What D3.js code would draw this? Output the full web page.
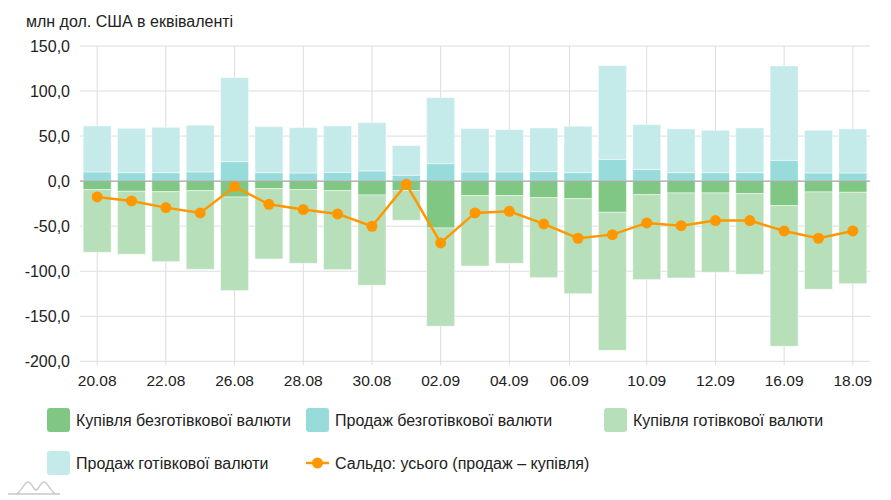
<!DOCTYPE html>
<html><head><meta charset="utf-8">
<script src="https://cdn.jsdelivr.net/npm/d3@7/dist/d3.min.js"></script>
<style>
html,body{margin:0;padding:0;background:#fff;}
svg{display:block;font-family:"Liberation Sans",Arial,sans-serif;}
</style></head>
<body>
<svg id="chart" width="891" height="500"></svg>
<script>
// ---- data ----
const dates = ["20.08","21.08","22.08","23.08","26.08","27.08","28.08","29.08","30.08","31.08","02.09","03.09","04.09","05.09","06.09","09.09","10.09","11.09","12.09","13.09","16.09","17.09","18.09"];
const saleNonCash = [10.2,9.4,9.4,10.2,21.6,9.4,9.1,9.8,11.3,6.5,19.4,10.2,10.2,10.5,9.4,24.2,12.8,9.4,9.4,9.4,23.1,9.1,9.1];
const saleCash    = [51.0,49.2,50.3,51.8,93.3,51.1,50.3,51.4,53.6,32.9,73.3,48.1,47.0,48.5,51.5,104.0,49.9,48.5,47.0,49.6,104.7,47.3,48.8];
const buyNonCash  = [-9.4,-11.3,-11.7,-10.5,-17.6,-8.3,-9.4,-10.5,-15.4,-10.5,-52.0,-16.1,-16.1,-18.3,-19.4,-34.6,-15.0,-13.1,-13.1,-13.9,-27.2,-12.0,-12.4];
const buyCash     = [-69.6,-69.9,-77.6,-87.4,-103.9,-78.1,-81.8,-87.7,-100.2,-33.0,-109.1,-78.1,-75.1,-88.8,-105.5,-153.2,-94.3,-94.4,-88.1,-89.5,-156.1,-108.0,-101.4];
const balance     = [-17.6,-22.0,-29.4,-35.3,-6.1,-25.7,-31.6,-36.4,-50.1,-3.5,-68.6,-35.3,-33.5,-47.5,-63.4,-59.4,-46.4,-49.4,-43.8,-43.8,-55.3,-63.4,-55.3];
const tickLabels  = ["20.08","22.08","26.08","28.08","30.08","02.09","04.09","06.09","10.09","12.09","16.09","18.09"];
const tickIndex   = [0,2,4,6,8,10,12,13.75,16,18,20,22];
const yTicks      = [150,100,50,0,-50,-100,-150,-200];
const seriesNames = ["Купівля безготівкової валюти","Продаж безготівкової валюти","Купівля готівкової валюти","Продаж готівкової валюти","Сальдо: усього (продаж – купівля)"];
const colors      = ["#81c784","#97dbdb","#b7e0ba","#c4eaea","#ff9800"];
const unitLabel   = "млн дол. США в еквіваленті";

// ---- layout ----
const svg = d3.select("#chart");
const pLeft = 80, pRight = 870, pTop = 46, pBottom = 361.3;
const x = d3.scaleLinear().domain([-0.5, dates.length - 0.5]).range([pLeft, pRight]);
const y = d3.scaleLinear().domain([-200, 150]).range([pBottom, pTop]);
const barW = 28;
const fmt = v => v.toFixed(1).replace(".", ",");

// grid
const g = svg.append("g");
g.selectAll("line.hg").data(yTicks).join("line")
  .attr("x1", pLeft).attr("x2", pRight)
  .attr("y1", d => y(d)).attr("y2", d => y(d))
  .attr("stroke", "#dddddd").attr("stroke-width", 1);
g.selectAll("line.vg").data(tickIndex).join("line")
  .attr("x1", d => x(d)).attr("x2", d => x(d))
  .attr("y1", pTop).attr("y2", pBottom + 4)
  .attr("stroke", "#dddddd").attr("stroke-width", 1);

// y labels
svg.append("g").selectAll("text").data(yTicks).join("text")
  .attr("x", 70).attr("y", d => y(d)).attr("dy", "0.35em")
  .attr("text-anchor", "end").attr("font-size", 16).attr("fill", "#222")
  .text(fmt);

// x labels
svg.append("g").selectAll("text").data(tickIndex).join("text")
  .attr("x", d => x(d)).attr("y", 381).attr("dy", "0.35em")
  .attr("text-anchor", "middle").attr("font-size", 15.5).attr("fill", "#222")
  .text((d, i) => tickLabels[i]);

// unit label
svg.append("text").attr("x", 26).attr("y", 27).attr("font-size", 16).attr("fill", "#222").text(unitLabel);

// stacked bars
const rows = dates.map((d, i) => ({i, sn: saleNonCash[i], sc: saleCash[i], bn: buyNonCash[i], bc: buyCash[i]}));
const segs = [];
rows.forEach(r => {
  segs.push({i: r.i, y0: 0, y1: r.sn, c: colors[1]});
  segs.push({i: r.i, y0: r.sn, y1: r.sn + r.sc, c: colors[3]});
  segs.push({i: r.i, y0: 0, y1: r.bn, c: colors[0]});
  segs.push({i: r.i, y0: r.bn, y1: r.bn + r.bc, c: colors[2]});
});
svg.append("g").selectAll("rect").data(segs).join("rect")
  .attr("x", d => x(d.i) - barW / 2).attr("width", barW)
  .attr("y", d => Math.min(y(d.y0), y(d.y1)))
  .attr("height", d => Math.abs(y(d.y0) - y(d.y1)))
  .attr("fill", d => d.c)
  .attr("stroke", "#ffffff").attr("stroke-opacity", 0.45).attr("stroke-width", 1);

// zero line
svg.append("line").attr("x1", pLeft).attr("x2", pRight).attr("y1", y(0)).attr("y2", y(0))
  .attr("stroke", "#999").attr("stroke-width", 1);

// balance line
const line = d3.line().x((d, i) => x(i)).y(d => y(d));
svg.append("path").datum(balance).attr("d", line)
  .attr("fill", "none").attr("stroke", colors[4]).attr("stroke-width", 2.5);
svg.append("g").selectAll("circle").data(balance).join("circle")
  .attr("cx", (d, i) => x(i)).attr("cy", d => y(d)).attr("r", 5.5)
  .attr("fill", colors[4]);

// legend
const legendItems = [
  {name: seriesNames[0], c: colors[0], lx: 47, ly: 408, type: "rect"},
  {name: seriesNames[1], c: colors[1], lx: 306, ly: 408, type: "rect"},
  {name: seriesNames[2], c: colors[2], lx: 604, ly: 408, type: "rect"},
  {name: seriesNames[3], c: colors[3], lx: 47, ly: 451, type: "rect"},
  {name: seriesNames[4], c: colors[4], lx: 306, ly: 451, type: "line"}
];
const lg = svg.append("g").selectAll("g").data(legendItems).join("g")
  .attr("transform", d => `translate(${d.lx},${d.ly})`);
lg.filter(d => d.type === "rect").append("rect")
  .attr("width", 23).attr("height", 24).attr("rx", 3).attr("fill", d => d.c);
lg.filter(d => d.type === "line").append("line")
  .attr("x1", 0).attr("x2", 23).attr("y1", 12).attr("y2", 12)
  .attr("stroke", d => d.c).attr("stroke-width", 2.5);
lg.filter(d => d.type === "line").append("circle")
  .attr("cx", 11.5).attr("cy", 12).attr("r", 5.5).attr("fill", d => d.c);
lg.append("text").attr("x", 29).attr("y", 12).attr("dy", "0.35em")
  .attr("font-size", 16).attr("fill", "#222").text(d => d.name);

// small logo mark
svg.append("path")
  .attr("d", "M8,494 L60,494 M16,494 C22,492 24,482 28,482 C32,482 33,490 36,490 C39,490 40,482 44,482 C48,482 50,492 56,494")
  .attr("fill", "none").attr("stroke", "#c8c8c8").attr("stroke-width", 1.3);
</script>
</body></html>
